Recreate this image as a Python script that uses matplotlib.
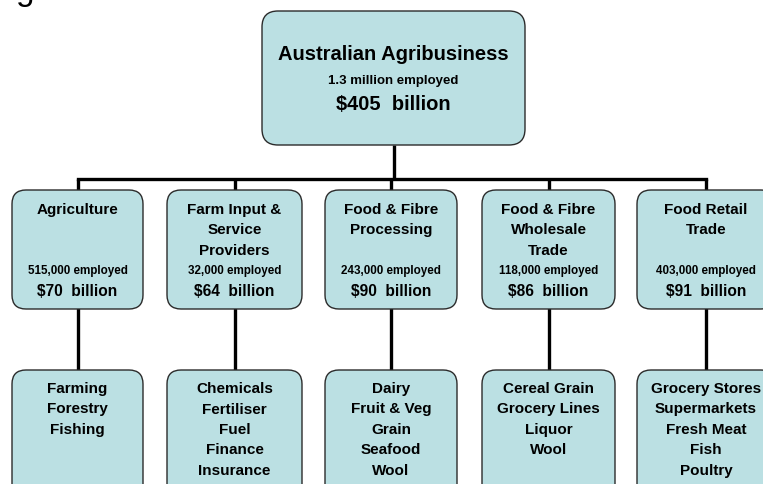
import matplotlib.pyplot as plt
from matplotlib.patches import FancyBboxPatch

# chart content
top_name = "Australian Agribusiness"
top_employed = "1.3 million employed"
top_value = 405

sectors = ["Agriculture", "Farm Input &\nService\nProviders", "Food & Fibre\nProcessing",
           "Food & Fibre\nWholesale\nTrade", "Food Retail\nTrade"]
employed = ["515,000", "32,000", "243,000", "118,000", "403,000"]
values = [70, 64, 90, 86, 91]
sub_items = [
    ["Farming", "Forestry", "Fishing"],
    ["Chemicals", "Fertiliser", "Fuel", "Finance", "Insurance"],
    ["Dairy", "Fruit & Veg", "Grain", "Seafood", "Wool"],
    ["Cereal Grain", "Grocery Lines", "Liquor", "Wool"],
    ["Grocery Stores", "Supermarkets", "Fresh Meat", "Fish", "Poultry"],
]

W, H = 763, 484
fig = plt.figure(figsize=(W / 100, H / 100), dpi=100)
ax = fig.add_axes([0, 0, 1, 1])
ax.set_xlim(0, W)
ax.set_ylim(H, 0)
ax.axis('off')

plt.rcParams['font.family'] = ['Liberation Sans', 'DejaVu Sans']
fill = '#bbe0e3'
edge = '#2b2b2b'
lw_line = 2.4


def box(x0, y0, x1, y1, r=14):
    p = FancyBboxPatch((x0, y0), x1 - x0, y1 - y0,
                       boxstyle=f"round,pad=0,rounding_size={r}",
                       fc=fill, ec=edge, lw=1.0, zorder=2)
    ax.add_patch(p)


# top box
box(262, 11, 525, 145, r=16)
cx = 393.5
ax.text(cx, 55, top_name, ha='center', va='center', fontsize=14.5, fontweight='bold', zorder=3)
ax.text(cx, 81, top_employed, ha='center', va='center', fontsize=9.5, fontweight='bold', zorder=3)
ax.text(cx, 104, f"${top_value}  billion", ha='center', va='center', fontsize=14.5,
        fontweight='bold', zorder=3)

# partially visible slide title glyph at the top edge
ax.text(16, 0, "g", ha='left', va='baseline', fontsize=24, zorder=3)

# column layout
lefts = [12, 167, 325, 482, 637]
rights = [143, 302, 457, 615, 775]
centers = [(l + r) / 2 for l, r in zip(lefts, rights)]
bus_y = 179

# connectors
ax.plot([cx, cx], [145, bus_y], color='k', lw=lw_line, zorder=1, solid_capstyle='butt')
ax.plot([centers[0], centers[-1]], [bus_y, bus_y], color='k', lw=lw_line, zorder=1,
        solid_capstyle='projecting')
for c in centers:
    ax.plot([c, c], [bus_y, 192], color='k', lw=lw_line, zorder=1, solid_capstyle='butt')
    ax.plot([c, c], [308, 371], color='k', lw=lw_line, zorder=1, solid_capstyle='butt')

for i, c in enumerate(centers):
    # sector box
    box(lefts[i], 190, rights[i], 309)
    for j, line in enumerate(sectors[i].split("\n")):
        ax.text(c, 210 + j * 20.3, line, ha='center', va='center', fontsize=11,
                fontweight='bold', zorder=3)
    ax.text(c, 271, f"{employed[i]} employed", ha='center', va='center', fontsize=8.4,
            fontweight='bold', zorder=3)
    ax.text(c, 292, f"${values[i]}  billion", ha='center', va='center', fontsize=11.2,
            fontweight='bold', zorder=3)

    # industry box
    box(lefts[i], 370, rights[i], 500)
    for j, item in enumerate(sub_items[i]):
        ax.text(c, 389 + j * 20.5, item, ha='center', va='center', fontsize=11,
                fontweight='bold', zorder=3)

fig.savefig("out.png", dpi=100)
